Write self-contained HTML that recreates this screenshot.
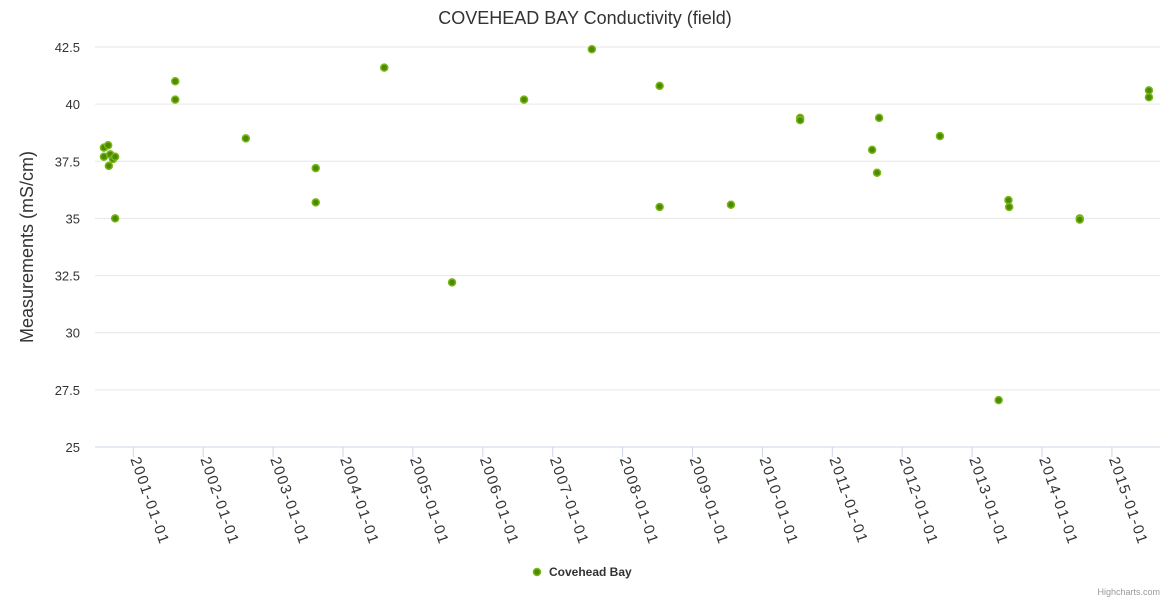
<!DOCTYPE html>
<html><head><meta charset="utf-8"><style>
body{margin:0;background:#fff;font-family:"Liberation Sans",sans-serif}
svg text{font-family:"Liberation Sans",sans-serif}
</style></head><body>
<svg id="chart" width="1170" height="600" xmlns="http://www.w3.org/2000/svg">
<text x="585" y="24" text-anchor="middle" font-size="18" fill="#333">COVEHEAD BAY Conductivity (field)</text>
<text transform="translate(33,247) rotate(-90)" text-anchor="middle" font-size="18" fill="#333">Measurements (mS/cm)</text>
<g id="grid"></g><g id="xaxis"></g><g id="pts"></g>
<g>
<circle cx="537" cy="572" r="3.5" fill="#4a8c00" stroke="#7cb518" stroke-width="1.5"/>
<text x="549" y="576" font-size="12" font-weight="bold" fill="#333">Covehead Bay</text>
</g>
<text x="1160" y="595" text-anchor="end" font-size="9" fill="#999">Highcharts.com</text>
</svg>
<script>
const yTicks=[25,27.5,30,32.5,35,37.5,40,42.5];
const yTickLabels=["25","27.5","30","32.5","35","37.5","40","42.5"];
const xTicks=[2001,2002,2003,2004,2005,2006,2007,2008,2009,2010,2011,2012,2013,2014,2015];
const dates=[2000.58,2000.64,2000.58,2000.67,2000.65,2000.71,2000.74,2000.74,2001.60,2001.60,2002.61,2003.61,2003.61,2004.59,2005.56,2006.59,2007.56,2008.53,2008.53,2009.55,2010.54,2010.54,2011.57,2011.64,2011.67,2012.54,2013.38,2013.52,2013.53,2014.54,2014.54,2015.53,2015.53];
const values=[38.1,38.2,37.7,37.8,37.3,37.6,37.7,35.0,41.0,40.2,38.5,37.2,35.7,41.6,32.2,40.2,42.4,40.8,35.5,35.6,39.4,39.3,38.0,37.0,39.4,38.6,27.05,35.8,35.5,35.0,34.95,40.6,40.3];
const NS="http://www.w3.org/2000/svg";
const L=95,R=1160,T=47,B=447;
function xs(d){return 133.3+(d-2001)*69.9;}
function ys(v){return B-(v-25)/17.5*(B-T);}
const g=document.getElementById('grid'),xa=document.getElementById('xaxis'),p=document.getElementById('pts');
function mk(t,a,par){const e=document.createElementNS(NS,t);for(const k in a)e.setAttribute(k,a[k]);par.appendChild(e);return e;}
yTicks.forEach((v,i)=>{
 const ln=mk('line',{x1:L,x2:R,y1:ys(v),y2:ys(v),stroke:i==0?'#ccd6eb':'#e6e6e6','stroke-width':1},g);
 
 
 const t=mk('text',{x:80,y:ys(v)+5,'text-anchor':'end','font-size':13,fill:'#333'},g);
 t.textContent=yTickLabels[i];
 
 
});
xTicks.forEach(yr=>{
 const x=xs(yr);
 const tk=mk('line',{x1:x,x2:x,y1:B,y2:B+10,stroke:'#ccd6eb'},xa);
 
 
 const t=mk('text',{transform:`translate(${x-3},${B+12}) rotate(71)`,'font-size':15,'letter-spacing':'1.5',fill:'#333'},xa);
 t.textContent=yr+'-01-01';
 
 
});
dates.forEach((d,i)=>{
 const c=mk('circle',{cx:xs(d),cy:ys(values[i]),r:3.5,fill:'#4a8c00',stroke:'#7cb518','stroke-width':1.5},p);
 
 
});
</script>
</body></html>
